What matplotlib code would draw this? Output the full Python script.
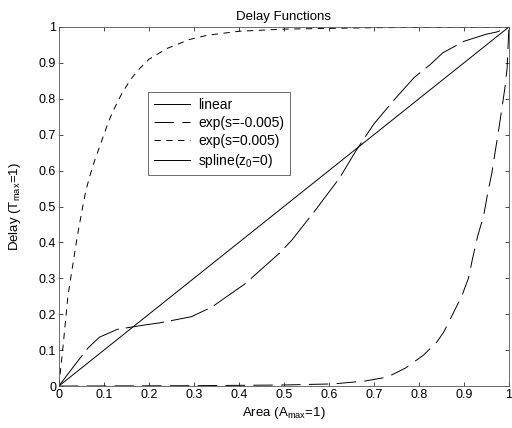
#!/usr/bin/env python
# Delay functions chart: linear, two exponentials and a spline

import matplotlib
matplotlib.use('Agg')
import matplotlib.pyplot as plt
from matplotlib.lines import Line2D

pngname = 'out.png'

# values
lin_x = [0.0, 1.0]
lin_y = [0.0, 1.0]

expneg_x = [0.0, 0.3, 0.5, 0.61, 0.68, 0.73, 0.77, 0.81, 0.84, 0.855, 0.875,
            0.895, 0.91, 0.92, 0.93, 0.944, 0.953, 0.962, 0.969, 0.978, 0.984,
            0.991, 0.996, 0.998, 1.0]
expneg_y = [0.0, 0.001, 0.003, 0.006, 0.014, 0.025, 0.05, 0.086, 0.123, 0.15,
            0.2, 0.25, 0.3, 0.36, 0.415, 0.476, 0.538, 0.593, 0.649, 0.72,
            0.77, 0.83, 0.886, 0.944, 1.0]

exppos_x = [0.0, 0.005, 0.01, 0.02, 0.03, 0.04, 0.05, 0.06, 0.07, 0.08, 0.09,
            0.10, 0.11, 0.12, 0.14, 0.16, 0.18, 0.2, 0.24, 0.29, 0.33, 0.4,
            0.5, 0.7, 1.0]
exppos_y = [0.0, 0.06, 0.12, 0.25, 0.33, 0.41, 0.48, 0.545, 0.59, 0.63, 0.665,
            0.70, 0.735, 0.765, 0.815, 0.855, 0.885, 0.91, 0.94, 0.965, 0.977,
            0.988, 0.994, 0.998, 1.0]

spline_x = [0.0, 0.03, 0.064, 0.09, 0.13, 0.19, 0.224, 0.294, 0.34, 0.383,
            0.413, 0.49, 0.518, 0.57, 0.624, 0.66, 0.7, 0.747, 0.79, 0.824,
            0.853, 0.9, 0.95, 0.973, 1.0]
spline_y = [0.0, 0.05, 0.105, 0.136, 0.158, 0.17, 0.176, 0.193, 0.22, 0.258,
            0.284, 0.37, 0.407, 0.49, 0.58, 0.655, 0.73, 0.8, 0.86, 0.894,
            0.928, 0.96, 0.98, 0.986, 1.0]

labels = ['linear', 'exp(s=-0.005)', 'exp(s=0.005)', r'spline(z$_0$=0)']
xticks = [0, 0.1, 0.2, 0.3, 0.4, 0.5, 0.6, 0.7, 0.8, 0.9, 1]
yticks = [0, 0.1, 0.2, 0.3, 0.4, 0.5, 0.6, 0.7, 0.8, 0.9, 1]

plt.rcParams['font.family'] = ['Liberation Sans', 'DejaVu Sans']
plt.rcParams['font.size'] = 9
plt.rcParams['lines.scale_dashes'] = False
plt.rcParams['mathtext.fontset'] = 'custom'
plt.rcParams['mathtext.rm'] = 'Liberation Sans'
plt.rcParams['mathtext.it'] = 'Liberation Sans'

fig = plt.figure(figsize=(5.12, 4.28), dpi=100)
ax = fig.add_axes([0.115, 0.098, 0.879, 0.839])

lw = 0.7
ax.plot(lin_x, lin_y, color='black', lw=lw, linestyle='-')
ax.plot(expneg_x, expneg_y, color='black', lw=lw, dashes=(14, 6))
ax.plot(exppos_x, exppos_y, color='black', lw=lw, dashes=(4.5, 4))
ax.plot(spline_x, spline_y, color='black', lw=lw, dashes=(28, 5))

ax.set_xlim(0, 1)
ax.set_ylim(0, 1)
ax.set_xticks(xticks)
ax.set_yticks(yticks)
ax.set_xticklabels([('%g' % t) for t in xticks])
ax.set_yticklabels([('%g' % t) for t in yticks])
ax.tick_params(direction='in', length=3, width=0.5, top=True, right=True,
               labelsize=9, pad=2)
for sp in ax.spines.values():
    sp.set_linewidth(0.6)
    sp.set_color('#555555')

ax.set_title('Delay Functions', fontsize=9.5, pad=5)
ax.set_xlabel(r'Area (A$_{max}$=1)', fontsize=9.5, labelpad=3)
ax.set_ylabel(r'Delay (T$_{max}$=1)', fontsize=9.5, labelpad=11)

# legend handles: the spline shows as a solid line in the key
handles = [Line2D([], [], color='black', lw=lw, linestyle='-'),
           Line2D([], [], color='black', lw=lw, dashes=(14, 6)),
           Line2D([], [], color='black', lw=lw, dashes=(4.5, 4)),
           Line2D([], [], color='black', lw=lw, linestyle='-')]
leg = ax.legend(handles, labels, loc='upper left', bbox_to_anchor=(0.198, 0.818),
                fontsize=10, handlelength=2.6, handletextpad=0.6,
                labelspacing=0.28, borderpad=0.4, fancybox=False,
                framealpha=1, edgecolor='#555555', borderaxespad=0)
leg.get_frame().set_linewidth(0.6)

fig.savefig(pngname, dpi=100)
plt.close(fig)
